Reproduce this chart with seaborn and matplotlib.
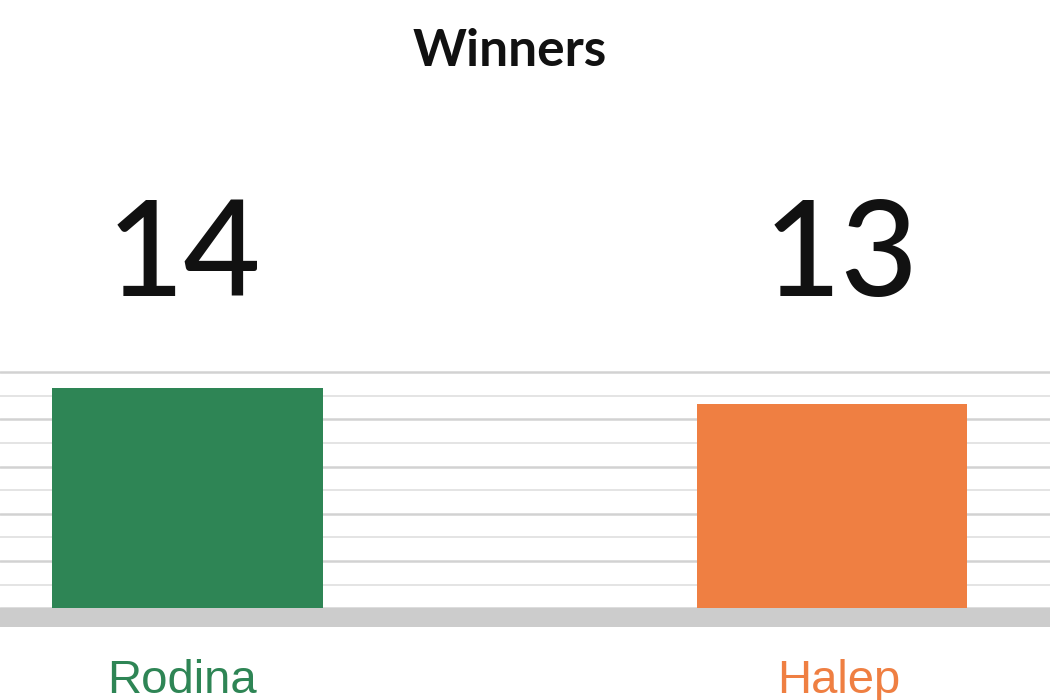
import matplotlib
matplotlib.use("Agg")
import matplotlib.pyplot as plt
import matplotlib.transforms as mtransforms
from matplotlib.ticker import MultipleLocator
import seaborn as sns
import pandas as pd

players = ["Rodina", "Halep"]
winners = [14, 13]
colors = ["#2e8555", "#ef7f42"]
title = "Winners"

sns.set_theme(style="white")
plt.rcParams["font.family"] = ["Lato", "DejaVu Sans"]

df = pd.DataFrame({"player": players, "winners": winners})

fig = plt.figure(figsize=(10.5, 7), dpi=100)
ax = fig.add_axes([0, 1 - 627 / 700, 1, (627 - 369) / 700])

sns.barplot(data=df, x="player", y="winners", hue="player", palette=colors,
            width=0.42, legend=False, ax=ax, zorder=3, saturation=1,
            linewidth=0, edgecolor="none")

ax.set_xlim(-0.291, 1.338)
ax.set_ylim(-1.2, 15.2)
ax.axhspan(-1.2, 0, color="#cccccc", zorder=2, lw=0)

ax.yaxis.set_major_locator(MultipleLocator(3))
ax.yaxis.set_minor_locator(MultipleLocator(1.5))
ax.grid(axis="y", which="major", color="#d2d2d2", lw=1.8, zorder=0)
ax.grid(axis="y", which="minor", color="#e2e2e2", lw=1.3, zorder=0)
ax.grid(axis="x", visible=False)
for s in ax.spines.values():
    s.set_visible(False)
ax.tick_params(axis="both", which="both", length=0)
ax.set_yticklabels([])
ax.set_xticks([])
ax.set_xlabel("")
ax.set_ylabel("")

# small horizontal nudges (in points) to match label placement
num_dx = [-2.5, 6.5]
lab_dx = [-4.0, 5.0]
trans = mtransforms.blended_transform_factory(ax.transData, fig.transFigure)
for i, (p, v, c) in enumerate(zip(players, winners, colors)):
    ax.annotate(str(v), xy=(i, 1 - 296 / 700), xycoords=trans,
                xytext=(num_dx[i], 0), textcoords="offset points",
                ha="center", va="baseline", fontsize=96, fontweight="medium",
                color="#111111", family=["Lato", "DejaVu Sans"])
    ax.annotate(p, xy=(i, 1 - 693 / 700), xycoords=trans,
                xytext=(lab_dx[i], 0), textcoords="offset points",
                ha="center", va="baseline", fontsize=34, color=c,
                family=["Liberation Sans", "DejaVu Sans"], annotation_clip=False)

fig.text(509.5 / 1050, 1 - 66 / 700, title, ha="center", va="baseline", fontsize=37,
         fontweight="bold", color="#111111", family=["Lato", "DejaVu Sans"])

fig.savefig("out.png", dpi=100)
